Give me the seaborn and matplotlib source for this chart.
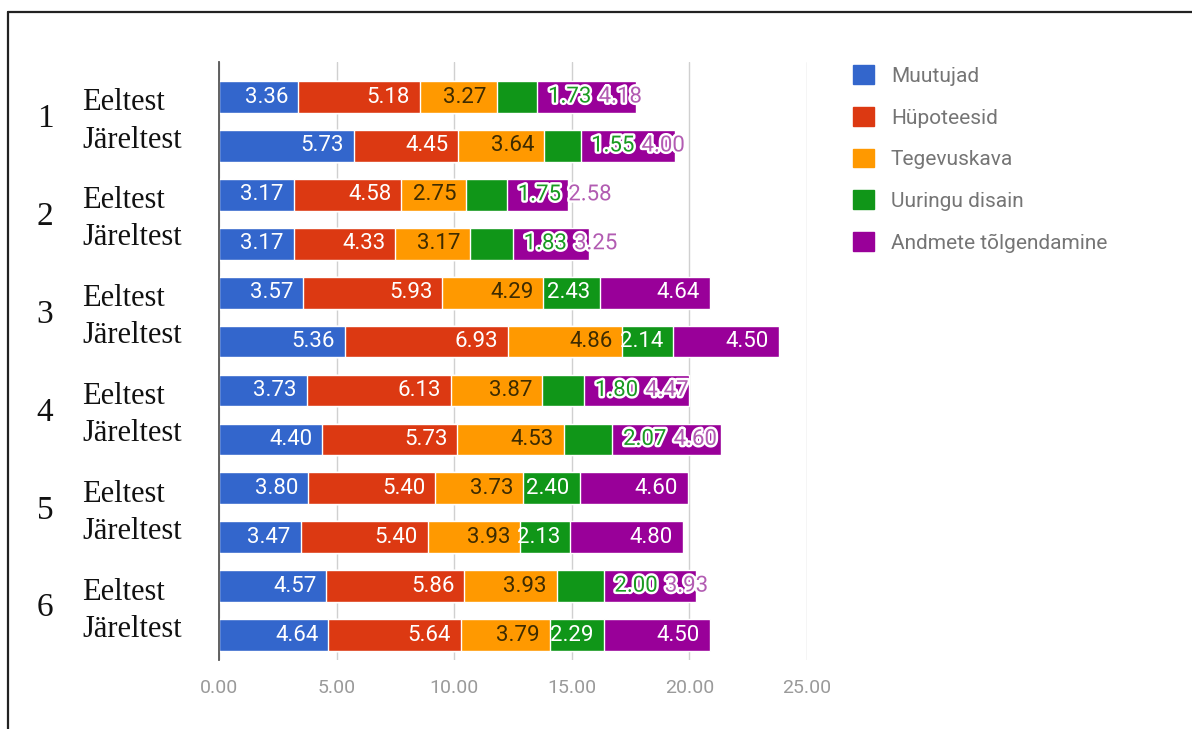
import matplotlib
matplotlib.use('Agg')
import matplotlib.pyplot as plt
import matplotlib.patheffects as pe
import matplotlib.transforms as mtrans
from matplotlib.patches import Patch
from matplotlib.lines import Line2D
import seaborn as sns
import pandas as pd

# --- ANDMED ---
grupid = ['1', '2', '3', '4', '5', '6']
faasid = ['Eeltest', 'Järeltest']
seeriad = ['Muutujad', 'Hüpoteesid', 'Tegevuskava', 'Uuringu disain', 'Andmete tõlgendamine']

muutujad     = [3.36, 5.73, 3.17, 3.17, 3.57, 5.36, 3.73, 4.40, 3.80, 3.47, 4.57, 4.64]
hupoteesid   = [5.18, 4.45, 4.58, 4.33, 5.93, 6.93, 6.13, 5.73, 5.40, 5.40, 5.86, 5.64]
tegevuskava  = [3.27, 3.64, 2.75, 3.17, 4.29, 4.86, 3.87, 4.53, 3.73, 3.93, 3.93, 3.79]
disain       = [1.73, 1.55, 1.75, 1.83, 2.43, 2.14, 1.80, 2.07, 2.40, 2.13, 2.00, 2.29]
tolgendamine = [4.18, 4.00, 2.58, 3.25, 4.64, 4.50, 4.47, 4.60, 4.60, 4.80, 3.93, 4.50]

x_ticks = [0, 5, 10, 15, 20, 25]

varvid = ['#3366cc', '#dc3912', '#ff9900', '#109618', '#990099']
tekst_varvid = ['white', 'white', '#3d2b00', 'white', 'white']
ule_varvid = [None, None, None, '#1a9a22', '#b25cb2']

# --- TABEL ---
read = [f'{g} {f}' for g in grupid for f in faasid]
df = pd.DataFrame({'rida': read, seeriad[0]: muutujad, seeriad[1]: hupoteesid,
                   seeriad[2]: tegevuskava, seeriad[3]: disain, seeriad[4]: tolgendamine})
kum = df[seeriad].cumsum(axis=1)

sns.set_style('white')
plt.rcParams['font.family'] = ['Roboto', 'DejaVu Sans']

W, H = 1192, 729
fig = plt.figure(figsize=(W / 100, H / 100), dpi=100)
ax = fig.add_axes([219 / W, 1 - 660 / H, (807 - 219) / W, (660 - 62) / H])

# virnastatud tulbad: kõige pikem enne
for k in range(len(seeriad) - 1, -1, -1):
    sns.barplot(x=kum[seeriad[k]], y=df['rida'], orient='h', color=varvid[k],
                saturation=1, width=0.65, errorbar=None, ax=ax, zorder=3)

ax.set_xlim(0, 25)
ax.set_ylim(11.51, -0.716)
ax.set_xticks(x_ticks)
ax.set_xticklabels([f'{v:.2f}' for v in x_ticks])
ax.set_yticks([])
ax.set_xlabel('')
ax.set_ylabel('')
for s in ['top', 'right', 'bottom']:
    ax.spines[s].set_visible(False)
ax.spines['left'].set_color('#555555')
ax.spines['left'].set_linewidth(1.3)
ax.spines['left'].set_zorder(4)
ax.grid(axis='x', color='#d0d0d0', lw=1, zorder=0)
ax.tick_params(axis='x', length=6, width=1, color='#d0d0d0', pad=8,
               labelsize=14, labelcolor='#9a9a9a')

# --- SILDID ---
fig.canvas.draw()
rend = fig.canvas.get_renderer()
inv = ax.transData.inverted()
pad = 0.42
vahe = 0.3
for i in range(len(read)):
    vasak = 0.0
    eelmine = -1.0
    ule = False
    for k in range(len(seeriad)):
        val = df[seeriad[k]].iloc[i]
        parem = vasak + val
        t = ax.text(parem - pad, i, f'{val:.2f}', ha='right', va='center',
                    fontsize=16, color=tekst_varvid[k], zorder=5)
        bb = t.get_window_extent(rend)
        laius = inv.transform((bb.x1, 0))[0] - inv.transform((bb.x0, 0))[0]
        if not ule and laius + 0.25 <= val:
            eelmine = parem - pad
        else:
            ule = True
            x0 = max(parem + 0.45, eelmine + vahe) if k == 3 else eelmine + vahe
            t.set_ha('left')
            t.set_x(x0)
            t.set_color(ule_varvid[k] or tekst_varvid[k])
            t.set_path_effects([pe.withStroke(linewidth=3.5, foreground='white')])
            eelmine = x0 + laius
        vasak = parem

# --- VASAKPOOLSED SILDID ---
tr = mtrans.blended_transform_factory(fig.transFigure, ax.transData)
for g in range(len(grupid)):
    yE, yJ = 2 * g, 2 * g + 1
    ax.text(82 / W, yE + 0.12, faasid[0], transform=tr, ha='left', va='center',
            fontsize=22, family='Liberation Serif', color='#111111')
    ax.text(82 / W, yJ - 0.12, faasid[1], transform=tr, ha='left', va='center',
            fontsize=22, family='Liberation Serif', color='#111111')
    ax.text(45 / W, (yE + yJ) / 2 - 0.05, grupid[g], transform=tr, ha='center', va='center',
            fontsize=24, family='Liberation Serif', color='#111111')

# --- LEGEND ---
kasitsed = [Patch(facecolor=c, edgecolor=c) for c in varvid]
leg = fig.legend(kasitsed, seeriad, loc='upper left', bbox_to_anchor=(845 / W, 1 - 57 / H),
                 frameon=False, fontsize=15, handlelength=1.0, handleheight=1.0,
                 handletextpad=0.8, labelspacing=1.02, borderaxespad=0)
for txt in leg.get_texts():
    txt.set_color('#757575')

# --- RAAM ---
fig.add_artist(Line2D([8 / W, 1], [1 - 12 / H, 1 - 12 / H], color='#222222', lw=1.6))
fig.add_artist(Line2D([8 / W, 8 / W], [0, 1 - 12 / H], color='#222222', lw=1.6))

fig.savefig('out.png', dpi=100)
